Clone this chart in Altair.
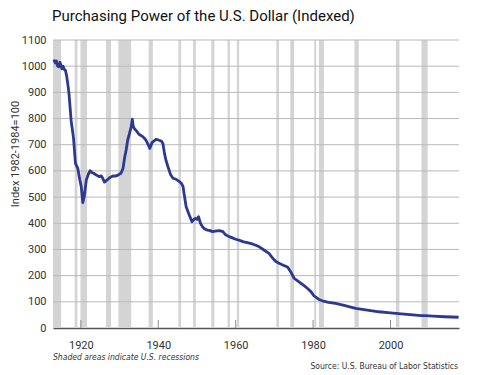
import altair as alt
import pandas as pd

# ---- data ----
years = [1913.0, 1913.4, 1913.7, 1914.0, 1914.3, 1914.6, 1914.8, 1915.1, 1915.4, 1915.7,
         1916.0, 1916.3, 1916.6, 1916.9, 1917.1, 1917.5, 1918.1, 1918.6, 1919.2, 1919.7,
         1920.1, 1920.5, 1920.9, 1921.4, 1922.0, 1922.4, 1922.8, 1923.3, 1924.0, 1924.8,
         1925.3, 1925.7, 1926.1, 1926.5, 1927.0, 1927.5, 1928.3, 1928.9, 1929.6, 1930.4,
         1930.9, 1931.3, 1931.7, 1932.1, 1932.6, 1933.0, 1933.3, 1933.5, 1933.8, 1934.3,
         1935.0, 1936.0, 1936.8, 1937.4, 1937.8, 1938.4, 1939.0, 1939.5, 1940.2, 1940.8,
         1941.2, 1941.6, 1942.0, 1942.5, 1943.2, 1943.8, 1944.6, 1945.5, 1946.0, 1946.4,
         1946.7, 1947.2, 1948.0, 1948.7, 1949.2, 1949.6, 1950.0, 1950.4, 1950.9, 1951.4,
         1952.0, 1952.7, 1953.4, 1954.0, 1954.8, 1955.7, 1956.3, 1956.7, 1957.4, 1958.3,
         1959.0, 1960.0, 1961.0, 1961.8, 1963.0, 1964.3, 1965.2, 1966.1, 1967.3, 1968.6,
         1969.5, 1970.3, 1971.2, 1972.3, 1973.4, 1974.2, 1975.1, 1976.0, 1976.8, 1977.6,
         1978.5, 1979.5, 1980.2, 1980.7, 1981.5, 1982.4, 1984.0, 1985.8, 1988.0, 1991.0,
         1994.0, 1997.0, 2000.0, 2002.1, 2005.0, 2008.0, 2008.9, 2011.0, 2014.0, 2017.6]
values = [1025, 1012, 1020, 1000, 998, 1015, 1005, 990, 1000, 988,
          985, 965, 935, 900, 865, 790, 725, 629, 610, 568,
          540, 479, 505, 565, 590, 601, 594, 591, 584, 578,
          581, 570, 557, 562, 568, 575, 581, 580, 584, 592,
          610, 650, 680, 718, 745, 768, 798, 772, 762, 754,
          740, 731, 718, 700, 686, 708, 716, 721, 717, 714,
          705, 667, 640, 616, 585, 572, 568, 559, 552, 540,
          510, 463, 432, 406, 415, 419, 415, 425, 400, 387,
          378, 374, 372, 368, 370, 372, 370, 368, 356, 349,
          345, 339, 335, 330, 326, 321, 316, 310, 298, 285,
          268, 255, 247, 240, 233, 215, 190, 180, 171, 163,
          152, 138, 123, 118, 109, 104, 98, 94, 86, 75,
          68, 62, 58, 55, 51, 47, 47, 45, 43, 41]

rec_start = [1912.8, 1918.4, 1919.9, 1926.5, 1929.7, 1937.5, 1945.2, 1949.0, 1953.7,
             1957.9, 1960.3, 1970.5, 1974.1, 1980.3, 1981.5, 1990.7, 2001.4, 2008.0]
rec_end = [1914.9, 1919.1, 1921.6, 1927.8, 1933.0, 1938.6, 1945.9, 1949.7, 1954.5,
           1958.5, 1960.9, 1971.2, 1975.1, 1980.8, 1982.8, 1991.8, 2002.3, 2009.6]

x_ticks = [1920, 1940, 1960, 1980, 2000]
y_ticks = [0, 100, 200, 300, 400, 500, 600, 700, 800, 900, 1000, 1100]

title_text = "Purchasing Power of the U.S. Dollar (Indexed)"
y_title = "Index 1982-1984=100"
note_text = "Shaded areas indicate U.S. recessions"
source_text = "Source: U.S. Bureau of Labor Statistics"

W, H = 406, 288
FONT = "Roboto, sans-serif"
NARROW = "DejaVu Sans Condensed, Roboto Condensed, Roboto, sans-serif"

xscale = alt.Scale(domain=[1912.8, 2017.7], nice=False, zero=False)
yscale = alt.Scale(domain=[0, 1100], nice=False)

xaxis = alt.Axis(values=x_ticks, format="d", title=None, grid=False,
                 ticks=False, domain=True, domainColor="#555555",
                 domainWidth=1.3, labelPadding=11, labelFontSize=11,
                 labelFont=FONT, labelColor="#333333")
yaxis = alt.Axis(values=y_ticks, format="d", title=None, grid=False, ticks=False,
                 domain=False, labelPadding=7, labelFontSize=11,
                 labelFont=FONT, labelColor="#333333")

line_df = pd.DataFrame({"year": years, "value": values})
rec_df = pd.DataFrame({"start": rec_start, "end": rec_end})
grid_df = pd.DataFrame({"value": y_ticks[1:]})
tick_df = pd.DataFrame({"year": x_ticks})

rects = alt.Chart(rec_df).mark_rect(color="#d4d4d4").encode(
    x=alt.X("start:Q", scale=xscale, axis=xaxis),
    x2="end:Q",
    y=alt.value(0),
    y2=alt.value(H),
)

grid = alt.Chart(grid_df).mark_rule(color="#b9b9b9", strokeWidth=1).encode(
    y=alt.Y("value:Q", scale=yscale, axis=yaxis),
    x=alt.value(0),
    x2=alt.value(W),
)

line = alt.Chart(line_df).mark_line(color="#2b3990", strokeWidth=2.8,
                                     strokeJoin="round").encode(
    x=alt.X("year:Q", scale=xscale, axis=xaxis),
    y=alt.Y("value:Q", scale=yscale, axis=yaxis),
)

xt = alt.Chart(tick_df).mark_rule(color="#8a8a8a", strokeWidth=1).encode(
    x=alt.X("year:Q", scale=xscale, axis=xaxis),
    y=alt.value(H - 8),
    y2=alt.value(H),
)

def label(text, **kw):
    pos = {k: kw.pop(k) for k in ("x", "y")}
    return alt.Chart(pd.DataFrame({"t": [text]})).mark_text(**kw).encode(
        text="t:N", x=alt.value(pos["x"]), y=alt.value(pos["y"]))

t_title = label(title_text, x=-1, y=-19, align="left", baseline="alphabetic",
                font=FONT, fontSize=15, color="#111111")
t_ytitle = label(y_title, x=-37, y=114, angle=270, align="center",
                 baseline="middle", font=FONT, fontSize=11, color="#333333")
t_note = label(note_text, x=0, y=320, align="left", baseline="alphabetic",
               font=NARROW, fontSize=8.5, fontStyle="italic", color="#333333")
t_src = label(source_text, x=405, y=329, align="right", baseline="alphabetic",
              font=NARROW, fontSize=8.5, color="#333333")

chart = alt.layer(rects, grid, line, xt, t_title, t_ytitle, t_note, t_src).properties(
    width=W, height=H,
    autosize=alt.AutoSizeParams(type="none"),
    padding={"left": 45, "top": 32, "right": 21, "bottom": 43},
).configure_view(stroke=None)

chart.save("out.html", embed_options={"renderer": "svg", "actions": False})
